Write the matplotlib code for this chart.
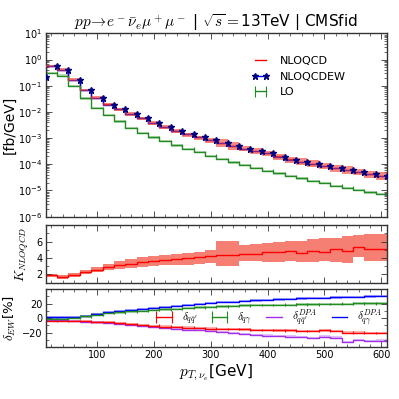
import numpy as np
import matplotlib.pyplot as plt
from matplotlib.lines import Line2D
from matplotlib.ticker import MultipleLocator, LogLocator, NullFormatter

plt.rcParams['font.family'] = 'DejaVu Sans'
plt.rcParams['mathtext.fontset'] = 'cm'

# bin edges in pT (GeV), 20 GeV bins from 10 to 610
bin_edges = np.arange(10, 620, 20)

# differential cross sections [fb/GeV], one value per bin (10-30 ... 590-610)
lo = [0.31, 0.245, 0.095, 0.033, 0.0142, 0.0075, 0.0043, 0.0024, 0.00155, 0.00107,
      0.00076, 0.00053, 0.00039, 0.000294, 0.00021, 0.000155, 0.000117, 9.3e-5, 7.1e-5, 5.7e-5,
      4.5e-5, 3.5e-5, 2.9e-5, 2.3e-5, 1.9e-5, 1.5e-5, 1.27e-5, 1.04e-5, 8.5e-6, 7.2e-6]
nloqcd = [0.57, 0.41, 0.17, 0.069, 0.0345, 0.0195, 0.0125, 0.0084, 0.0056, 0.0038,
          0.0027, 0.0019, 0.0014, 0.00107, 0.00084, 0.00067, 0.0005, 0.0004, 0.00032, 0.00027,
          0.0002, 0.000155, 0.000126, 0.000107, 8.6e-5, 7.3e-5, 6.1e-5, 5.1e-5, 4.3e-5, 3.6e-5]
# NLOQCDEW markers sit on the bin edges (first one at 10 GeV)
nloqcdew = [0.21, 0.56, 0.40, 0.17, 0.068, 0.034, 0.019, 0.0124, 0.0083, 0.0056, 0.0038,
            0.0027, 0.0019, 0.0014, 0.00107, 0.00083, 0.00066, 0.00049, 0.00039, 0.00031, 0.00026,
            0.000195, 0.00015, 0.000122, 0.000103, 8.3e-5, 7.0e-5, 5.9e-5, 4.9e-5, 4.1e-5, 3.5e-5]

# K factor NLOQCD/LO with scale band
k_nlo = [1.88, 1.72, 1.92, 2.28, 2.6, 2.88, 3.12, 3.32, 3.52, 3.6,
         3.76, 3.92, 4.04, 4.16, 4.3, 4.32, 4.32, 4.48, 4.52, 4.68,
         4.76, 4.8, 4.6, 4.84, 4.76, 5.04, 4.88, 5.28, 5.12, 5.12]
k_hi = [2.1, 1.95, 2.15, 2.55, 2.95, 3.3, 3.6, 3.92, 4.15, 4.25,
        4.4, 4.52, 4.64, 4.78, 4.95, 6.08, 6.08, 5.52, 5.68, 5.8,
        6.0, 6.08, 6.08, 6.32, 6.4, 6.48, 6.64, 6.8, 6.88, 6.96]
k_lo = [1.65, 1.5, 1.7, 2.0, 2.25, 2.5, 2.65, 2.75, 2.95, 3.0,
        3.1, 3.2, 3.2, 3.3, 3.35, 3.0, 3.0, 3.6, 3.6, 3.55,
        3.52, 3.6, 3.52, 3.52, 3.6, 3.52, 3.45, 4.08, 3.6, 3.6]

# EW corrections [%]
d_qq = [-3.7, -3.7, -4.2, -4.6, -5.6, -6.0, -7.4, -8.8, -9.7, -10.6,
        -11.6, -12.0, -13.0, -13.9, -14.4, -14.8, -15.3, -15.7, -16.2, -16.7,
        -17.1, -17.1, -17.6, -18.0, -17.1, -17.6, -19.9, -19.9, -20.8, -20.4]
d_qa = [-0.5, -0.5, 0.0, 2.3, 5.0, 6.9, 7.9, 9.3, 10.2, 11.1,
        12.0, 13.0, 13.9, 14.8, 15.7, 16.2, 17.1, 17.6, 18.0, 18.0,
        18.5, 18.5, 19.0, 19.0, 19.4, 19.9, 19.9, 20.4, 20.4, 20.4]
d_qq_dpa = [-3.2, -3.2, -4.2, -5.1, -6.0, -6.9, -8.3, -9.7, -11.1, -12.0,
            -13.4, -14.8, -16.2, -16.7, -18.0, -19.4, -20.4, -21.8, -23.1, -24.1,
            -24.5, -25.5, -26.4, -27.8, -25.5, -26.9, -32.9, -30.1, -31.5, -31.0]
d_qa_dpa = [0.9, 0.9, 1.4, 3.2, 5.6, 7.9, 9.7, 11.6, 13.0, 14.4,
            15.7, 17.1, 18.0, 19.4, 20.8, 21.8, 22.7, 23.6, 24.5, 25.5,
            25.9, 26.9, 27.3, 27.8, 28.2, 28.7, 29.2, 29.6, 30.1, 31.0]


def steps(vals):
    # repeat first bin value at the left edge for steps-pre drawing
    v = np.asarray(vals, dtype=float)
    return np.r_[v[0], v]


band_col = '#f23a2a'
green = '#228b22'
purple = '#a030e8'
x = bin_edges

fig = plt.figure(figsize=(3.99, 3.99), dpi=100)
ax1 = fig.add_axes([0.1145, 0.457, 0.8555, 0.4595])
ax2 = fig.add_axes([0.1145, 0.2915, 0.8555, 0.1445])
ax3 = fig.add_axes([0.1145, 0.1303, 0.8555, 0.1447])

# --- top panel ---
lo_s = steps(lo)
nlo_s = steps(nloqcd)
ratio_hi = np.array(k_hi) / np.array(k_nlo)
ratio_lo = np.array(k_lo) / np.array(k_nlo)
ax1.fill_between(x, lo_s * 0.9, lo_s * 1.1, step='pre', color=green, alpha=0.3, lw=0)
h_lo = ax1.errorbar(x, lo_s, yerr=lo_s * 0.13, color=green, lw=1, elinewidth=0.8,
                    drawstyle='steps-pre', capsize=0)
ax1.plot(x, nlo_s, drawstyle='steps-pre', color='red', lw=1, zorder=2)
ax1.plot(x, nloqcdew, drawstyle='steps-pre', color='blue', lw=1, zorder=2)
ax1.fill_between(x, nlo_s * steps(ratio_lo), nlo_s * steps(ratio_hi), step='pre',
                 color=band_col, alpha=0.6, lw=0, zorder=3)
ax1.plot(x, nloqcdew, ls='none', marker='*', ms=5, color='#000080', zorder=4)

h_nlo = Line2D([], [], color='red', lw=1)
h_ew = Line2D([], [], color='blue', lw=1, marker='*', ms=5, mfc='#000080', mec='#000080')
ax1.legend([h_nlo, h_ew, h_lo], ['NLOQCD', 'NLOQCDEW', 'LO'], loc='upper right',
           bbox_to_anchor=(0.91, 0.93), frameon=False, fontsize=8, numpoints=2,
           handlelength=1.6, handletextpad=1.0)

ax1.set_yscale('log')
ax1.set_ylim(1e-6, 10)
ax1.yaxis.set_major_locator(LogLocator(base=10, numticks=10))
ax1.yaxis.set_minor_locator(LogLocator(base=10, subs=np.arange(2, 10), numticks=20))
ax1.yaxis.set_minor_formatter(NullFormatter())
ax1.set_ylabel('[fb/GeV]', fontsize=10)
ax1.set_title(r'$pp\!\rightarrow\! e^-\bar{\nu}_e\mu^+\mu^-$ | $\sqrt{s}=$13TeV | CMSfid',
              fontsize=11, pad=3)

# --- middle panel: K factor ---
ax2.fill_between(x, steps(k_lo), steps(k_hi), step='pre', color=band_col, alpha=0.65, lw=0)
ax2.plot(x, steps(k_nlo), drawstyle='steps-pre', color='red', lw=1)
ax2.set_ylim(1, 8)
ax2.set_yticks([2, 4, 6])
ax2.yaxis.set_minor_locator(MultipleLocator(1))
ax2.set_ylabel(r'$K_{NLOQCD}$', fontsize=9.5)

# --- bottom panel: EW corrections ---
for vals, col in [(d_qq, 'red'), (d_qa, green), (d_qq_dpa, purple), (d_qa_dpa, 'blue')]:
    v = steps(vals)
    ax3.fill_between(x, v - 1.5, v + 1.5, step='pre', color=col, alpha=0.3, lw=0)
e1 = ax3.errorbar(x, steps(d_qq), yerr=1.8, color='red', lw=1, elinewidth=0.8,
                  drawstyle='steps-pre', capsize=0)
e2 = ax3.errorbar(x, steps(d_qa), yerr=1.8, color=green, lw=1, elinewidth=0.8,
                  drawstyle='steps-pre', capsize=0)
l3, = ax3.plot(x, steps(d_qq_dpa), drawstyle='steps-pre', color=purple, lw=1)
l4, = ax3.plot(x, steps(d_qa_dpa), drawstyle='steps-pre', color='blue', lw=1)
ax3.legend([e1, e2, l3, l4],
           [r'$\delta_{q\bar{q}^{\prime}}$', r'$\delta_{q\gamma}$',
            r'$\delta^{DPA}_{q\bar{q}^{\prime}}$', r'$\delta^{DPA}_{q\gamma}$'],
           loc='center', bbox_to_anchor=(0.65, 0.5), ncol=4, frameon=False, fontsize=8,
           numpoints=2, handlelength=2.0, handletextpad=0.6, columnspacing=1.0)
ax3.set_ylim(-40, 40)
ax3.set_yticks([-20, 0, 20])
ax3.yaxis.set_minor_locator(MultipleLocator(10))
ax3.set_ylabel(r'$\delta_{EW}$[%]', fontsize=9.5)
ax3.set_xlabel(r'$p_{T,\nu_e}$[GeV]', fontsize=11, labelpad=2)

for ax in (ax1, ax2, ax3):
    ax.set_xlim(10, 610)
    ax.xaxis.set_major_locator(MultipleLocator(100))
    ax.xaxis.set_minor_locator(MultipleLocator(20))
    ax.tick_params(which='both', direction='in', top=True, right=True,
                   labelsize=7, colors='#333333', labelcolor='black', pad=2.5)
    ax.tick_params(which='major', length=4, width=0.6)
    ax.tick_params(which='minor', length=2, width=0.5)
    for sp in ax.spines.values():
        sp.set_color('#333333')
        sp.set_linewidth(1.0)
for ax in (ax1, ax2):
    ax.tick_params(labelbottom=False)

ax1.yaxis.set_label_coords(-0.085, 0.5)
ax3.yaxis.set_label_coords(-0.08, 0.5)
ax2.yaxis.set_label_coords(-0.042, 0.5)

fig.savefig('out.png', dpi=100)
